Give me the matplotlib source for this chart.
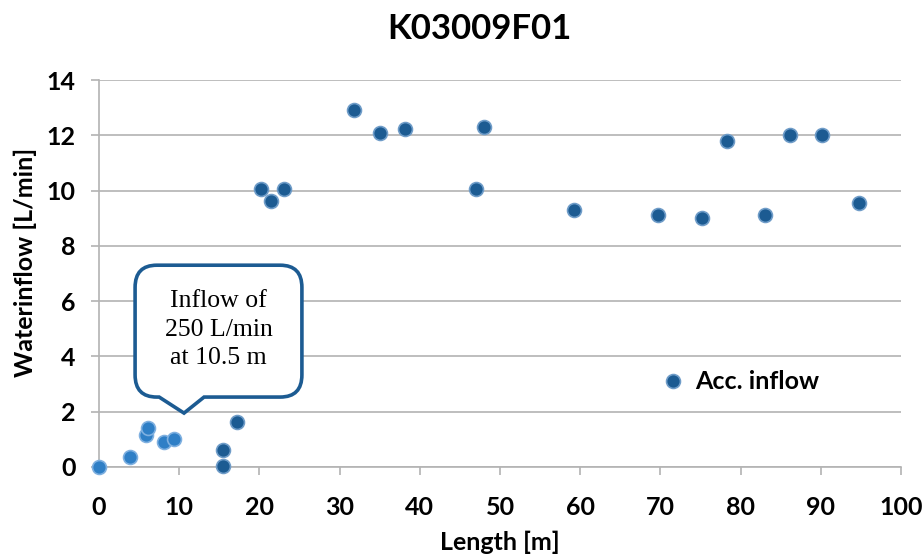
import matplotlib
matplotlib.use("Agg")
import matplotlib.pyplot as plt
from matplotlib.path import Path
from matplotlib.patches import PathPatch

# --- data ------------------------------------------------------------
TITLE = "K03009F01"

# first stretch (lighter markers, not in the legend)
x_first = [0.0, 3.9, 5.8, 6.1, 8.1, 9.4]
y_first = [0.0, 0.35, 1.16, 1.40, 0.92, 1.02]

# accumulated inflow
x_acc = [15.5, 15.5, 17.2, 20.2, 21.4, 23.1, 31.8, 35.0, 38.2, 47.0, 48.0,
         59.2, 69.7, 75.2, 78.3, 83.0, 86.1, 90.1, 94.8]
y_acc = [0.04, 0.63, 1.64, 10.05, 9.62, 10.05, 12.92, 12.10, 12.22, 10.05, 12.31,
         9.30, 9.10, 9.00, 11.80, 9.10, 12.02, 12.02, 9.54]

x_ticks = list(range(0, 101, 10))
y_ticks = list(range(0, 15, 2))

CALLOUT = "Inflow of\n250 L/min\nat 10.5 m"

# --- styles ----------------------------------------------------------
DARK = "#1c5b92"
LIGHT = "#2f7fc6"
GRID = "#b3b3b3"
FONT = "Lato"
FS = 18

fig = plt.figure(figsize=(9.24, 5.56), dpi=100)
ax = fig.add_axes([99 / 924, 1 - 467 / 556, 802 / 924, 387 / 556])

ax.plot(x_first, y_first, "o", ms=10, color=LIGHT, mec="#7fb0e0", mew=1.2,
        clip_on=False, zorder=4)
ax.plot(x_acc, y_acc, "o", ms=10, color=DARK, mec="#6f9cc8", mew=1.2,
        clip_on=False, zorder=4, label="Acc. inflow")

ax.set_xlim(0, 100)
ax.set_ylim(0, 14)
ax.set_xticks(x_ticks)
ax.set_yticks(y_ticks)
ax.yaxis.grid(True, color=GRID, lw=1.2)
ax.set_axisbelow(True)
for side in ("top", "right"):
    ax.spines[side].set_visible(False)
for side in ("left", "bottom"):
    ax.spines[side].set_color(GRID)
    ax.spines[side].set_linewidth(1.2)
ax.tick_params(axis="both", direction="out", length=6, width=1.2, color=GRID,
               labelsize=FS)
ax.tick_params(axis="y", pad=11)
ax.tick_params(axis="x", pad=15)
for lab in ax.get_xticklabels() + ax.get_yticklabels():
    lab.set_fontfamily(FONT)
    lab.set_fontweight("bold")

ax.set_xlabel("Length [m]", fontsize=FS, fontweight="bold", family=FONT)
ax.xaxis.set_label_coords(0.5, -0.165)
ax.set_ylabel("Waterinflow [L/min]", fontsize=FS, fontweight="bold", family=FONT)
ax.yaxis.set_label_coords(-0.077, 0.53)

fig.text(479 / 924, 1 - 29 / 556, TITLE, ha="center", va="center",
         fontsize=25, fontweight="bold", family=FONT)

# --- callout box ------------------------------------------------------
x0, x1, y0, y1 = 4.5, 25.3, 2.53, 7.3
rx, ry = 2.7, 0.8
xa, xb, tip = 7.5, 13.1, (10.6, 1.95)
verts = [(x0 + rx, y0), (xa, y0), tip, (xb, y0), (x1 - rx, y0),
         (x1, y0), (x1, y0 + ry), (x1, y1 - ry),
         (x1, y1), (x1 - rx, y1), (x0 + rx, y1),
         (x0, y1), (x0, y1 - ry), (x0, y0 + ry),
         (x0, y0), (x0 + rx, y0), (x0 + rx, y0)]
codes = ([Path.MOVETO] + [Path.LINETO] * 4 + [Path.CURVE3] * 2 + [Path.LINETO]
         + [Path.CURVE3] * 2 + [Path.LINETO] + [Path.CURVE3] * 2 + [Path.LINETO]
         + [Path.CURVE3] * 2 + [Path.CLOSEPOLY])
ax.add_patch(PathPatch(Path(verts, codes), facecolor="white", edgecolor=DARK,
                       lw=2.6, joinstyle="miter", zorder=3, clip_on=False))
ax.text((x0 + x1) / 2, (y0 + y1) / 2 + 0.05, CALLOUT, ha="center", va="center",
        fontsize=18.5, family="Liberation Serif", linespacing=1.38, zorder=5)

leg = ax.legend(loc="center left", bbox_to_anchor=(0.703, 0.22), frameon=False,
                handlelength=0.8, handletextpad=0.5, borderpad=0, borderaxespad=0,
                prop={"family": FONT, "weight": "bold", "size": FS})

fig.savefig("out.png", dpi=100)
